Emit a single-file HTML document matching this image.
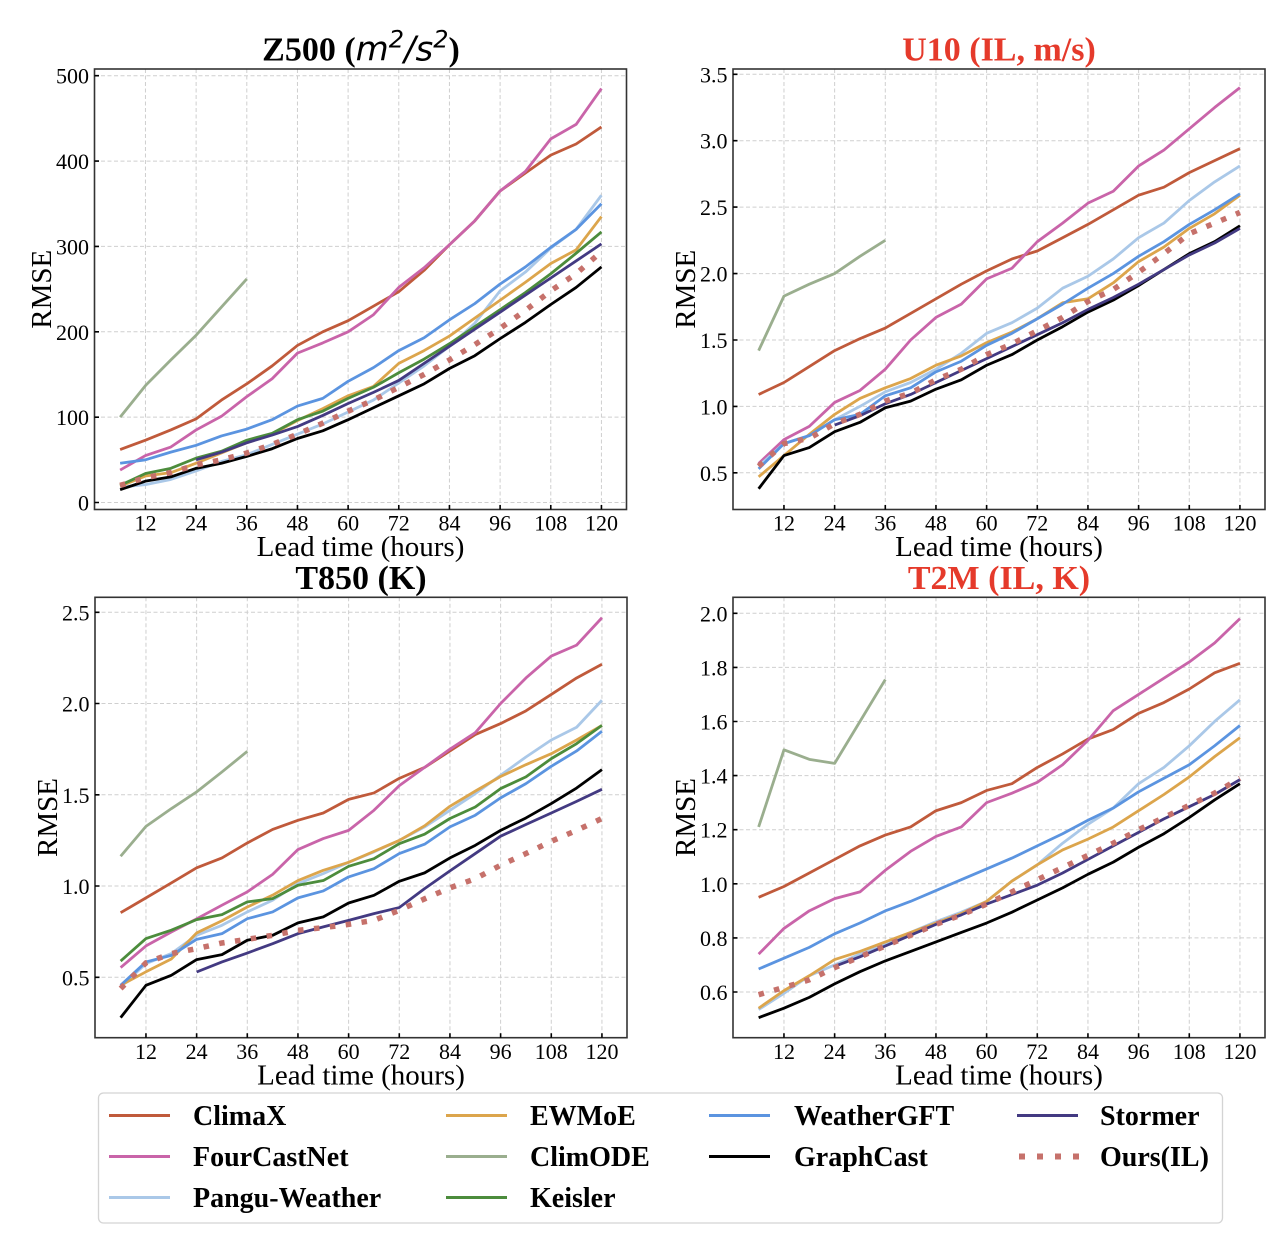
<!DOCTYPE html>
<html>
<head>
<meta charset="utf-8">
<style>
html,body{margin:0;padding:0;background:#fff;}
svg{display:block;}
.tk{font-family:"Liberation Serif","Times New Roman",serif;font-size:22px;fill:#000;}
.lab{font-family:"Liberation Serif","Times New Roman",serif;font-size:29px;fill:#000;}
.ttl{font-family:"Liberation Serif","Times New Roman",serif;font-size:34px;font-weight:bold;}
.lg{font-family:"Liberation Serif","Times New Roman",serif;font-size:28px;font-weight:bold;fill:#000;}
.grid{stroke:#cfcfcf;stroke-width:1;stroke-dasharray:4 2.5;fill:none;}
.frame{fill:none;stroke:#333;stroke-width:1.6;}
.tick{stroke:#000;stroke-width:1.6;fill:none;}
.s polyline{fill:none;stroke-width:2.8;stroke-linejoin:round;vector-effect:non-scaling-stroke;}
.ours{fill:none;stroke:#c6716b;stroke-width:5.5;stroke-dasharray:5.5 10.5;}
</style>
</head>
<body>
<svg width="1280" height="1250" viewBox="0 0 1280 1250" xmlns="http://www.w3.org/2000/svg">
<rect width="1280" height="1250" fill="#fff"/>

<!-- ================= TL: Z500 ================= -->
<path class="grid" d="M145.46 69V509.5M196.13 69V509.5M246.79 69V509.5M297.46 69V509.5M348.12 69V509.5M398.78 69V509.5M449.45 69V509.5M500.11 69V509.5M550.78 69V509.5M601.44 69V509.5M94.5 502.5H626.5M94.5 417.15H626.5M94.5 331.8H626.5M94.5 246.4H626.5M94.5 161.1H626.5M94.5 75.7H626.5"/>
<g class="s" transform="translate(94.8,502.5) scale(4.222,-0.85352)">
<polyline vector-effect="non-scaling-stroke" stroke="#c05a3b" points="6,62 12,73 18,85 24,98 30,120 36,139 42,160 48,184 54,200 60,213 66,230 72,247 78,272 84,302 90,330 96,365 102,386 108,407 114,420 120,440"/>
<polyline vector-effect="non-scaling-stroke" stroke="#c964a9" points="6,38 12,55 18,65 24,85 30,101 36,124 42,145 48,175 54,187 60,200 66,220 72,252 78,275 84,302 90,330 96,365 102,388 108,426 114,443 120,485"/>
<polyline vector-effect="non-scaling-stroke" stroke="#aac8e8" points="6,18 12,21 18,27 24,37 30,48 36,56 42,68 48,80 54,92 60,106 66,120 72,140 78,160 84,183 90,210 96,248 102,270 108,298 114,320 120,360"/>
<polyline vector-effect="non-scaling-stroke" stroke="#dca54c" points="6,19 12,31 18,35 24,46 30,58 36,70 42,80 48,96 54,110 60,125 66,136 72,163 78,178 84,195 90,216 96,237 102,258 108,280 114,296 120,335"/>
<polyline vector-effect="non-scaling-stroke" stroke="#9aae8e" points="6,100 12,137 18,167 24,196 30,229 36,262"/>
<polyline vector-effect="non-scaling-stroke" stroke="#4c8c3c" points="6,20 12,34 18,40 24,52 30,60 36,73 42,81 48,97 54,107 60,122 66,135 72,152 78,168 84,186 90,206 96,226 102,246 108,268 114,292 120,317"/>
<polyline vector-effect="non-scaling-stroke" stroke="#5b94e0" points="6,46 12,50 18,59 24,67 30,78 36,86 42,97 48,113 54,122 60,142 66,158 72,178 78,193 84,214 90,233 96,256 102,276 108,299 114,320 120,350"/>
<polyline vector-effect="non-scaling-stroke" stroke="#000000" points="6,15 12,25 18,30 24,40 30,46 36,54 42,63 48,75 54,84 60,97 66,111 72,125 78,139 84,157 90,172 96,192 102,211 108,232 114,252 120,276"/>
<polyline vector-effect="non-scaling-stroke" stroke="#433a82" points="24,50 30,59 36,70 42,79 48,89 54,102 60,116 66,129 72,143 78,163 84,183 90,203 96,223 102,243 108,263 114,283 120,303"/>
</g>
<polyline class="ours" points="120.13,485.43 145.46,477.75 170.8,472.63 196.13,464.95 221.46,459.82 246.79,453 272.12,444.46 297.46,434.22 322.79,423.12 348.12,411.17 373.45,400.08 398.78,387.28 424.12,374.47 449.45,359.96 474.78,344.6 500.11,328.38 525.44,310.46 550.78,290.83 576.11,273.76 601.44,251.57"/>
<rect class="frame" x="94.5" y="69" width="532" height="440.5"/>
<path class="tick" d="M94.5 502.5h4.5M94.5 417.15h4.5M94.5 331.8h4.5M94.5 246.4h4.5M94.5 161.1h4.5M94.5 75.7h4.5M145.46 509.5v-4.5M196.13 509.5v-4.5M246.79 509.5v-4.5M297.46 509.5v-4.5M348.12 509.5v-4.5M398.78 509.5v-4.5M449.45 509.5v-4.5M500.11 509.5v-4.5M550.78 509.5v-4.5M601.44 509.5v-4.5"/>
<g class="tk" text-anchor="end">
<text x="89" y="510.5">0</text><text x="89" y="425.2">100</text><text x="89" y="339.8">200</text><text x="89" y="254.4">300</text><text x="89" y="169.1">400</text><text x="89" y="83.7">500</text>
</g>
<g class="tk" text-anchor="middle">
<text x="145.46" y="530.5">12</text><text x="196.13" y="530.5">24</text><text x="246.79" y="530.5">36</text><text x="297.46" y="530.5">48</text><text x="348.12" y="530.5">60</text><text x="398.78" y="530.5">72</text><text x="449.45" y="530.5">84</text><text x="500.11" y="530.5">96</text><text x="550.78" y="530.5">108</text><text x="601.44" y="530.5">120</text>
</g>
<text class="lab" x="360.5" y="556" text-anchor="middle">Lead time (hours)</text>
<text class="lab" transform="translate(51,289.25) rotate(-90)" text-anchor="middle">RMSE</text>
<text class="ttl" x="361" y="60.5" text-anchor="middle" fill="#000">Z500 (<tspan font-family="DejaVu Sans, sans-serif" font-style="italic" font-weight="normal">m<tspan dy="-13" font-size="24">2</tspan><tspan dy="13">/s</tspan><tspan dy="-13" font-size="24">2</tspan></tspan><tspan dy="13">)</tspan></text>

<!-- ================= TR: U10 ================= -->
<path class="grid" d="M783.96 69V509.5M834.63 69V509.5M885.29 69V509.5M935.96 69V509.5M986.62 69V509.5M1037.28 69V509.5M1087.95 69V509.5M1138.61 69V509.5M1189.28 69V509.5M1239.94 69V509.5M733 472.8H1265M733 406.4H1265M733 340H1265M733 273.6H1265M733 207.1H1265M733 140.7H1265M733 74.3H1265"/>
<g class="s" transform="translate(733.3,539.25) scale(4.222,-132.84)">
<polyline vector-effect="non-scaling-stroke" stroke="#c05a3b" points="6,1.09 12,1.18 18,1.30 24,1.42 30,1.51 36,1.59 42,1.70 48,1.81 54,1.92 60,2.02 66,2.11 72,2.17 78,2.27 84,2.37 90,2.48 96,2.59 102,2.65 108,2.76 114,2.85 120,2.94"/>
<polyline vector-effect="non-scaling-stroke" stroke="#c964a9" points="6,0.57 12,0.75 18,0.85 24,1.03 30,1.12 36,1.28 42,1.50 48,1.67 54,1.77 60,1.96 66,2.04 72,2.24 78,2.38 84,2.53 90,2.62 96,2.81 102,2.93 108,3.09 114,3.25 120,3.40"/>
<polyline vector-effect="non-scaling-stroke" stroke="#aac8e8" points="6,0.55 12,0.72 18,0.78 24,0.90 30,1.00 36,1.11 42,1.18 48,1.28 54,1.40 60,1.55 66,1.63 72,1.74 78,1.89 84,1.98 90,2.11 96,2.27 102,2.38 108,2.55 114,2.69 120,2.81"/>
<polyline vector-effect="non-scaling-stroke" stroke="#dca54c" points="6,0.47 12,0.63 18,0.79 24,0.94 30,1.06 36,1.14 42,1.21 48,1.31 54,1.38 60,1.48 66,1.56 72,1.66 78,1.78 84,1.81 90,1.93 96,2.09 102,2.20 108,2.34 114,2.45 120,2.59"/>
<polyline vector-effect="non-scaling-stroke" stroke="#9aae8e" points="6,1.42 12,1.83 18,1.92 24,2.00 30,2.13 36,2.25"/>
<polyline vector-effect="non-scaling-stroke" stroke="#5b94e0" points="6,0.53 12,0.72 18,0.78 24,0.90 30,0.94 36,1.08 42,1.14 48,1.26 54,1.34 60,1.46 66,1.55 72,1.66 78,1.77 84,1.89 90,2.00 96,2.13 102,2.24 108,2.37 114,2.48 120,2.60"/>
<polyline vector-effect="non-scaling-stroke" stroke="#000000" points="6,0.38 12,0.63 18,0.69 24,0.81 30,0.88 36,0.99 42,1.04 48,1.13 54,1.20 60,1.31 66,1.39 72,1.50 78,1.60 84,1.71 90,1.80 96,1.91 102,2.03 108,2.15 114,2.24 120,2.36"/>
<polyline vector-effect="non-scaling-stroke" stroke="#433a82" points="24,0.86 30,0.93 36,1.02 42,1.09 48,1.18 54,1.27 60,1.36 66,1.45 72,1.54 78,1.63 84,1.73 90,1.82 96,1.92 102,2.03 108,2.14 114,2.23 120,2.34"/>
</g>
<polyline class="ours" points="758.63,466.19 783.96,443.61 809.3,438.29 834.63,423.68 859.96,414.38 885.29,401.1 910.62,393.13 935.96,379.84 961.29,369.2 986.62,354.6 1011.95,343.98 1037.28,330.69 1062.62,317.41 1087.95,301.47 1113.28,289.51 1138.61,272.24 1163.94,253.64 1189.28,233.72 1214.61,223.09 1239.94,212.46"/>
<rect class="frame" x="733" y="69" width="532" height="440.5"/>
<path class="tick" d="M733 472.8h4.5M733 406.4h4.5M733 340h4.5M733 273.6h4.5M733 207.1h4.5M733 140.7h4.5M733 74.3h4.5M783.96 509.5v-4.5M834.63 509.5v-4.5M885.29 509.5v-4.5M935.96 509.5v-4.5M986.62 509.5v-4.5M1037.28 509.5v-4.5M1087.95 509.5v-4.5M1138.61 509.5v-4.5M1189.28 509.5v-4.5M1239.94 509.5v-4.5"/>
<g class="tk" text-anchor="end">
<text x="727.5" y="480.8">0.5</text><text x="727.5" y="414.4">1.0</text><text x="727.5" y="348">1.5</text><text x="727.5" y="281.6">2.0</text><text x="727.5" y="215.1">2.5</text><text x="727.5" y="148.7">3.0</text><text x="727.5" y="82.3">3.5</text>
</g>
<g class="tk" text-anchor="middle">
<text x="783.96" y="530.5">12</text><text x="834.63" y="530.5">24</text><text x="885.29" y="530.5">36</text><text x="935.96" y="530.5">48</text><text x="986.62" y="530.5">60</text><text x="1037.28" y="530.5">72</text><text x="1087.95" y="530.5">84</text><text x="1138.61" y="530.5">96</text><text x="1189.28" y="530.5">108</text><text x="1239.94" y="530.5">120</text>
</g>
<text class="lab" x="999" y="556" text-anchor="middle">Lead time (hours)</text>
<text class="lab" transform="translate(695,289.25) rotate(-90)" text-anchor="middle">RMSE</text>
<text class="ttl" x="999" y="60.5" text-anchor="middle" fill="#e53a2b">U10 (IL, m/s)</text>

<!-- ================= BL: T850 ================= -->
<path class="grid" d="M145.96 597.3V1037.7M196.63 597.3V1037.7M247.29 597.3V1037.7M297.96 597.3V1037.7M348.62 597.3V1037.7M399.28 597.3V1037.7M449.95 597.3V1037.7M500.61 597.3V1037.7M551.28 597.3V1037.7M601.94 597.3V1037.7M95 977.3H627M95 886H627M95 794.8H627M95 703.5H627M95 612.3H627"/>
<g class="s" transform="translate(95.3,1068.54) scale(4.222,-182.51)">
<polyline vector-effect="non-scaling-stroke" stroke="#c05a3b" points="6,0.854 12,0.935 18,1.017 24,1.10 30,1.154 36,1.236 42,1.31 48,1.36 54,1.40 60,1.475 66,1.51 72,1.59 78,1.65 84,1.74 90,1.83 96,1.89 102,1.96 108,2.05 114,2.14 120,2.215"/>
<polyline vector-effect="non-scaling-stroke" stroke="#c964a9" points="6,0.553 12,0.672 18,0.748 24,0.82 30,0.895 36,0.968 42,1.064 48,1.20 54,1.26 60,1.305 66,1.415 72,1.55 78,1.65 84,1.75 90,1.84 96,2.0 102,2.14 108,2.26 114,2.32 120,2.47"/>
<polyline vector-effect="non-scaling-stroke" stroke="#aac8e8" points="6,0.447 12,0.575 18,0.63 24,0.73 30,0.785 36,0.858 42,0.922 48,1.013 54,1.068 60,1.13 66,1.187 72,1.25 78,1.324 84,1.415 90,1.506 96,1.607 102,1.707 108,1.80 114,1.87 120,2.018"/>
<polyline vector-effect="non-scaling-stroke" stroke="#dca54c" points="6,0.456 12,0.53 18,0.60 24,0.743 30,0.81 36,0.885 42,0.95 48,1.03 54,1.086 60,1.13 66,1.19 72,1.25 78,1.33 84,1.437 90,1.52 96,1.60 102,1.665 108,1.725 114,1.80 120,1.88"/>
<polyline vector-effect="non-scaling-stroke" stroke="#9aae8e" points="6,1.163 12,1.327 18,1.424 24,1.516 30,1.625 36,1.738"/>
<polyline vector-effect="non-scaling-stroke" stroke="#4c8c3c" points="6,0.589 12,0.712 18,0.758 24,0.816 30,0.843 36,0.913 42,0.931 48,1.004 54,1.03 60,1.108 66,1.15 72,1.232 78,1.284 84,1.37 90,1.433 96,1.534 102,1.598 108,1.698 114,1.78 120,1.88"/>
<polyline vector-effect="non-scaling-stroke" stroke="#5b94e0" points="6,0.456 12,0.584 18,0.62 24,0.708 30,0.739 36,0.821 42,0.858 48,0.935 54,0.973 60,1.05 66,1.095 72,1.178 78,1.229 84,1.324 90,1.388 96,1.483 102,1.561 108,1.656 114,1.74 120,1.848"/>
<polyline vector-effect="non-scaling-stroke" stroke="#000000" points="6,0.279 12,0.456 18,0.511 24,0.597 30,0.624 36,0.703 42,0.73 48,0.798 54,0.831 60,0.907 66,0.949 72,1.026 78,1.072 84,1.154 90,1.223 96,1.305 102,1.373 108,1.452 114,1.537 120,1.638"/>
<polyline vector-effect="non-scaling-stroke" stroke="#433a82" points="24,0.529 30,0.584 36,0.633 42,0.684 48,0.739 54,0.776 60,0.812 66,0.849 72,0.882 78,0.986 84,1.083 90,1.178 96,1.273 102,1.337 108,1.40 114,1.464 120,1.53"/>
</g>
<polyline class="ours" points="120.63,988.6 145.96,962.87 171.3,953.56 196.63,948.63 221.96,942.97 247.29,939.32 272.62,935.31 297.96,930.38 323.29,927.65 348.62,924.36 373.95,920.34 399.28,910.31 424.62,898.81 449.95,887.86 475.28,878.73 500.61,865.22 525.94,853.54 551.28,841.31 576.61,830.36 601.94,818.5"/>
<rect class="frame" x="95" y="597.3" width="532" height="440.4"/>
<path class="tick" d="M95 977.3h4.5M95 886h4.5M95 794.8h4.5M95 703.5h4.5M95 612.3h4.5M145.96 1037.7v-4.5M196.63 1037.7v-4.5M247.29 1037.7v-4.5M297.96 1037.7v-4.5M348.62 1037.7v-4.5M399.28 1037.7v-4.5M449.95 1037.7v-4.5M500.61 1037.7v-4.5M551.28 1037.7v-4.5M601.94 1037.7v-4.5"/>
<g class="tk" text-anchor="end">
<text x="89.5" y="985.3">0.5</text><text x="89.5" y="894">1.0</text><text x="89.5" y="802.8">1.5</text><text x="89.5" y="711.5">2.0</text><text x="89.5" y="620.3">2.5</text>
</g>
<g class="tk" text-anchor="middle">
<text x="145.96" y="1058.9">12</text><text x="196.63" y="1058.9">24</text><text x="247.29" y="1058.9">36</text><text x="297.96" y="1058.9">48</text><text x="348.62" y="1058.9">60</text><text x="399.28" y="1058.9">72</text><text x="449.95" y="1058.9">84</text><text x="500.61" y="1058.9">96</text><text x="551.28" y="1058.9">108</text><text x="601.94" y="1058.9">120</text>
</g>
<text class="lab" x="361" y="1084.3" text-anchor="middle">Lead time (hours)</text>
<text class="lab" transform="translate(57,817.5) rotate(-90)" text-anchor="middle">RMSE</text>
<text class="ttl" x="361" y="589" text-anchor="middle" fill="#000">T850 (K)</text>

<!-- ================= BR: T2M ================= -->
<path class="grid" d="M783.96 597.3V1037.7M834.63 597.3V1037.7M885.29 597.3V1037.7M935.96 597.3V1037.7M986.62 597.3V1037.7M1037.28 597.3V1037.7M1087.95 597.3V1037.7M1138.61 597.3V1037.7M1189.28 597.3V1037.7M1239.94 597.3V1037.7M733 992H1265M733 937.9H1265M733 883.8H1265M733 829.7H1265M733 775.6H1265M733 721.5H1265M733 667.4H1265M733 613.3H1265"/>
<g class="s" transform="translate(733.3,1154.3) scale(4.222,-270.52)">
<polyline vector-effect="non-scaling-stroke" stroke="#c05a3b" points="6,0.95 12,0.99 18,1.04 24,1.09 30,1.14 36,1.18 42,1.21 48,1.27 54,1.30 60,1.345 66,1.37 72,1.43 78,1.48 84,1.535 90,1.57 96,1.63 102,1.67 108,1.72 114,1.78 120,1.815"/>
<polyline vector-effect="non-scaling-stroke" stroke="#c964a9" points="6,0.74 12,0.835 18,0.90 24,0.945 30,0.97 36,1.05 42,1.12 48,1.175 54,1.21 60,1.30 66,1.335 72,1.375 78,1.44 84,1.53 90,1.64 96,1.70 102,1.76 108,1.82 114,1.89 120,1.98"/>
<polyline vector-effect="non-scaling-stroke" stroke="#aac8e8" points="6,0.535 12,0.595 18,0.66 24,0.70 30,0.74 36,0.78 42,0.82 48,0.86 54,0.895 60,0.935 66,1.01 72,1.07 78,1.15 84,1.22 90,1.28 96,1.37 102,1.43 108,1.51 114,1.60 120,1.68"/>
<polyline vector-effect="non-scaling-stroke" stroke="#dca54c" points="6,0.54 12,0.605 18,0.66 24,0.72 30,0.75 36,0.785 42,0.82 48,0.855 54,0.89 60,0.935 66,1.01 72,1.07 78,1.125 84,1.165 90,1.21 96,1.27 102,1.33 108,1.395 114,1.47 120,1.54"/>
<polyline vector-effect="non-scaling-stroke" stroke="#9aae8e" points="6,1.21 12,1.495 18,1.46 24,1.445 30,1.60 36,1.755"/>
<polyline vector-effect="non-scaling-stroke" stroke="#5b94e0" points="6,0.685 12,0.725 18,0.765 24,0.815 30,0.855 36,0.90 42,0.935 48,0.975 54,1.015 60,1.055 66,1.095 72,1.14 78,1.185 84,1.235 90,1.28 96,1.34 102,1.39 108,1.44 114,1.51 120,1.585"/>
<polyline vector-effect="non-scaling-stroke" stroke="#000000" points="6,0.505 12,0.54 18,0.58 24,0.63 30,0.675 36,0.715 42,0.75 48,0.785 54,0.82 60,0.855 66,0.895 72,0.94 78,0.985 84,1.035 90,1.08 96,1.135 102,1.185 108,1.245 114,1.31 120,1.37"/>
<polyline vector-effect="non-scaling-stroke" stroke="#433a82" points="24,0.695 30,0.73 36,0.77 42,0.81 48,0.85 54,0.885 60,0.925 66,0.96 72,0.995 78,1.04 84,1.09 90,1.14 96,1.19 102,1.24 108,1.285 114,1.33 120,1.385"/>
</g>
<polyline class="ours" points="758.63,994.69 783.96,987.39 809.3,979.81 834.63,967.64 859.96,956.82 885.29,946 910.62,935.18 935.96,924.36 961.29,914.89 986.62,904.07 1011.95,891.9 1037.28,879.72 1062.62,867.55 1087.95,855.37 1113.28,843.2 1138.61,829.68 1163.94,817.5 1189.28,805.33 1214.61,793.16 1239.94,778.28"/>
<rect class="frame" x="733" y="597.3" width="532" height="440.4"/>
<path class="tick" d="M733 992h4.5M733 937.9h4.5M733 883.8h4.5M733 829.7h4.5M733 775.6h4.5M733 721.5h4.5M733 667.4h4.5M733 613.3h4.5M783.96 1037.7v-4.5M834.63 1037.7v-4.5M885.29 1037.7v-4.5M935.96 1037.7v-4.5M986.62 1037.7v-4.5M1037.28 1037.7v-4.5M1087.95 1037.7v-4.5M1138.61 1037.7v-4.5M1189.28 1037.7v-4.5M1239.94 1037.7v-4.5"/>
<g class="tk" text-anchor="end">
<text x="727.5" y="1000">0.6</text><text x="727.5" y="945.9">0.8</text><text x="727.5" y="891.8">1.0</text><text x="727.5" y="837.7">1.2</text><text x="727.5" y="783.6">1.4</text><text x="727.5" y="729.5">1.6</text><text x="727.5" y="675.4">1.8</text><text x="727.5" y="621.3">2.0</text>
</g>
<g class="tk" text-anchor="middle">
<text x="783.96" y="1058.9">12</text><text x="834.63" y="1058.9">24</text><text x="885.29" y="1058.9">36</text><text x="935.96" y="1058.9">48</text><text x="986.62" y="1058.9">60</text><text x="1037.28" y="1058.9">72</text><text x="1087.95" y="1058.9">84</text><text x="1138.61" y="1058.9">96</text><text x="1189.28" y="1058.9">108</text><text x="1239.94" y="1058.9">120</text>
</g>
<text class="lab" x="999" y="1084.3" text-anchor="middle">Lead time (hours)</text>
<text class="lab" transform="translate(695,817.5) rotate(-90)" text-anchor="middle">RMSE</text>
<text class="ttl" x="999" y="589" text-anchor="middle" fill="#e53a2b">T2M (IL, K)</text>

<!-- ================= Legend ================= -->
<rect x="98.5" y="1093" width="1124" height="130" rx="5" ry="5" fill="#fff" stroke="#d4d4d4" stroke-width="1.3"/>
<g fill="none" stroke-width="3">
<line x1="109" y1="1115.5" x2="170" y2="1115.5" stroke="#c05a3b"/>
<line x1="109" y1="1156.5" x2="170" y2="1156.5" stroke="#c964a9"/>
<line x1="109" y1="1197.5" x2="170" y2="1197.5" stroke="#aac8e8"/>
<line x1="446" y1="1115.5" x2="507" y2="1115.5" stroke="#dca54c"/>
<line x1="446" y1="1156.5" x2="507" y2="1156.5" stroke="#9aae8e"/>
<line x1="446" y1="1197.5" x2="507" y2="1197.5" stroke="#4c8c3c"/>
<line x1="709" y1="1115.5" x2="770" y2="1115.5" stroke="#5b94e0"/>
<line x1="709" y1="1156.5" x2="770" y2="1156.5" stroke="#000000"/>
<line x1="1017" y1="1115.5" x2="1078" y2="1115.5" stroke="#433a82"/>
</g>
<line x1="1019" y1="1156.5" x2="1079" y2="1156.5" stroke="#c6716b" stroke-width="6" stroke-dasharray="6 12"/>
<g class="lg">
<text x="193" y="1125">ClimaX</text>
<text x="193" y="1166">FourCastNet</text>
<text x="193" y="1207">Pangu-Weather</text>
<text x="530" y="1125">EWMoE</text>
<text x="530" y="1166">ClimODE</text>
<text x="530" y="1207">Keisler</text>
<text x="794" y="1125">WeatherGFT</text>
<text x="794" y="1166">GraphCast</text>
<text x="1100" y="1125">Stormer</text>
<text x="1100" y="1166">Ours(IL)</text>
</g>
</svg>
</body>
</html>
